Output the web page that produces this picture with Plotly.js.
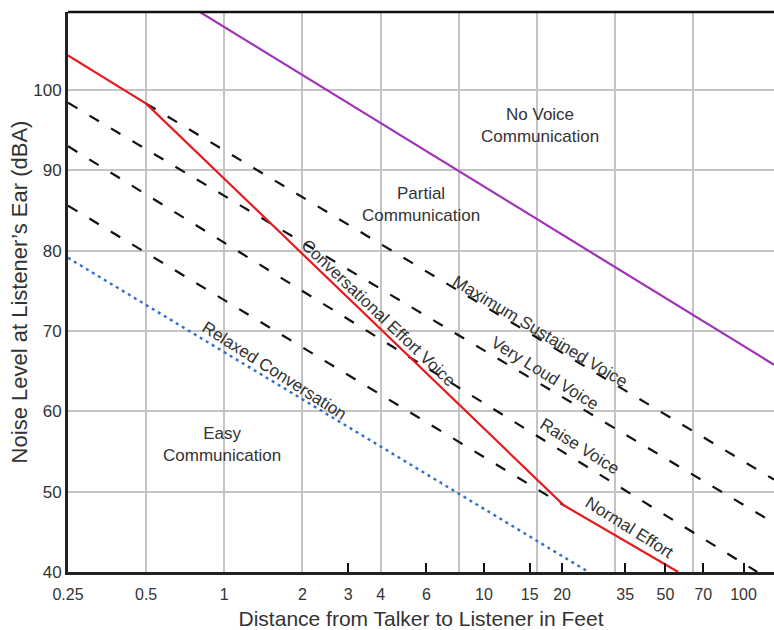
<!DOCTYPE html>
<html>
<head>
<meta charset="utf-8">
<script src="https://cdn.plot.ly/plotly-3.0.1.min.js"></script>
<style>html,body{margin:0;padding:0;background:#fff;}#chart{width:774px;height:630px;}</style>
</head>
<body>
<div id="chart"></div>
<script>
// Tick labels and grid positions (feet)
const xTickVals = [0.25, 0.5, 1, 2, 3, 4, 6, 10, 15, 20, 35, 50, 70, 100];
const xTickText = ["0.25", "0.5", "1", "2", "3", "4", "6", "10", "15", "20", "35", "50", "70", "100"];
const xTickMarkVals = [3, 6, 10, 15, 20, 35, 50, 70, 100];
const xGridVals = [0.5, 1, 2, 4, 8, 16, 32, 64];
const yTickVals = [40, 50, 60, 70, 80, 90, 100];

// Boundary lines (distance ft, noise dBA)
const noVoiceX = [0.8, 131];
const noVoiceY = [109.75, 65.8];

const commLimitX = [0.25, 0.5, 20.3, 56];
const commLimitY = [104.3, 98.3, 48.3, 40];

const maxSustainedX = [0.5, 131];
const maxSustainedY = [98.3, 51.5];

const veryLoudX = [0.25, 131];
const veryLoudY = [98.4, 46.1];

const raiseX = [0.25, 113];
const raiseY = [93.0, 40];

const normalX = [0.25, 20.3];
const normalY = [85.6, 48.3];

const relaxedX = [0.25, 25.3];
const relaxedY = [79.1, 40];

const FONT = "Liberation Sans, Arial, Helvetica, sans-serif";
const dashStyle = {color: "#111", width: 2.2, dash: "11px,14px"};

const traces = [
  {x: maxSustainedX, y: maxSustainedY, mode: "lines", line: dashStyle, xaxis: "x", yaxis: "y"},
  {x: veryLoudX, y: veryLoudY, mode: "lines", line: dashStyle, xaxis: "x", yaxis: "y"},
  {x: raiseX, y: raiseY, mode: "lines", line: dashStyle, xaxis: "x", yaxis: "y"},
  {x: normalX, y: normalY, mode: "lines", line: dashStyle, xaxis: "x", yaxis: "y"},
  {x: relaxedX, y: relaxedY, mode: "lines", line: {color: "#2f6fd0", width: 2.4, dash: "3px,4px"}, xaxis: "x", yaxis: "y"},
  {x: commLimitX, y: commLimitY, mode: "lines", line: {color: "#e8191c", width: 2.2}, xaxis: "x", yaxis: "y"},
  {x: noVoiceX, y: noVoiceY, mode: "lines", line: {color: "#a030b8", width: 2.2}, xaxis: "x2", yaxis: "y"}
];

const xRange = [Math.log10(0.25), Math.log10(131)];

function ann(text, x, y, angle, size) {
  return {text: text, x: x, y: y, xref: "paper", yref: "paper", showarrow: false,
    textangle: angle || 0, font: {family: FONT, size: size || 17, color: "#333"},
    xanchor: "center", yanchor: "middle"};
}

const layout = {
  width: 774, height: 630,
  margin: {l: 68, r: 0, t: 12, b: 58},
  paper_bgcolor: "#fff", plot_bgcolor: "#fff",
  showlegend: false,
  font: {family: FONT, color: "#333"},
  xaxis: {
    type: "log", range: xRange,
    tickmode: "array", tickvals: xTickVals, ticktext: xTickText,
    ticks: "", showgrid: false, zeroline: false,
    minor: {tickmode: "array", tickvals: xGridVals, showgrid: true, gridcolor: "#c4c4c4", gridwidth: 2, ticks: ""},
    showline: true, linecolor: "#222", linewidth: 3,
    tickfont: {family: FONT, size: 16, color: "#333"},
    ticklabelstandoff: 6,
    title: {text: "Distance from Talker to Listener in Feet", font: {family: FONT, size: 21, color: "#333"}, standoff: 10},
    automargin: false, fixedrange: true
  },
  xaxis2: {
    type: "log", range: xRange, overlaying: "x", side: "bottom",
    tickmode: "array", tickvals: xTickMarkVals,
    ticks: "inside", ticklen: 9, tickwidth: 2, tickcolor: "#111",
    showticklabels: false, showgrid: false, zeroline: false, showline: false,
    automargin: false, fixedrange: true
  },
  yaxis: {
    range: [40, 109.7], tickmode: "array", tickvals: yTickVals,
    ticks: "", showgrid: true, gridcolor: "#c4c4c4", gridwidth: 2, zeroline: false,
    showline: true, linecolor: "#222", linewidth: 3,
    tickfont: {family: FONT, size: 17, color: "#333"},
    title: {text: "Noise Level at Listener\u2019s Ear (dBA)", font: {family: FONT, size: 22, color: "#333"}, standoff: 0},
    automargin: false, fixedrange: true
  },
  shapes: [
    {type: "line", xref: "paper", yref: "paper", x0: 0, x1: 1, y0: 1, y1: 1, line: {color: "#111", width: 2.5}}
  ],
  annotations: [
    ann("No Voice<br>Communication", 0.6686, 0.7975),
    ann("Partial<br>Communication", 0.5, 0.657),
    ann("Easy<br>Communication", 0.218, 0.2268),
    ann("Conversational Effort Voice", 0.4405, 0.462, 43.5),
    ann("Maximum Sustained Voice", 0.6686, 0.430, 31),
    ann("Very Loud Voice", 0.6756, 0.3536, 32),
    ann("Raise Voice", 0.725, 0.225, 32),
    ann("Normal Effort", 0.7946, 0.0786, 32),
    ann("Relaxed Conversation", 0.2918, 0.3607, 32.5)
  ]
};

Plotly.newPlot("chart", traces, layout, {staticPlot: true, displayModeBar: false});
</script>
</body>
</html>
